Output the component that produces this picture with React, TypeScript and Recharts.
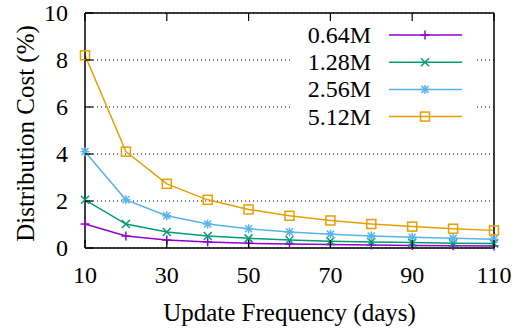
import { LineChart, Line, XAxis, YAxis, CartesianGrid } from "recharts";

const days = [10, 20, 30, 40, 50, 60, 70, 80, 90, 100, 110];
const cost064 = [1.02, 0.51, 0.34, 0.26, 0.2, 0.17, 0.15, 0.13, 0.11, 0.1, 0.09];
const cost128 = [2.05, 1.02, 0.68, 0.51, 0.41, 0.34, 0.29, 0.26, 0.23, 0.2, 0.19];
const cost256 = [4.1, 2.05, 1.37, 1.02, 0.82, 0.68, 0.59, 0.51, 0.46, 0.41, 0.37];
const cost512 = [8.2, 4.1, 2.73, 2.05, 1.64, 1.37, 1.17, 1.02, 0.91, 0.82, 0.75];

const xTicks = [10, 30, 50, 70, 90, 110];
const yTicks = [0, 2, 4, 6, 8, 10];

const SERIF = "Liberation Serif";
const FS = 24;
const TICK = 8;

const data = days.map((d, i) => ({
  d,
  a: cost064[i],
  b: cost128[i],
  c: cost256[i],
  e: cost512[i],
}));

const series = [
  { key: "a", name: "0.64M", color: "#9400d3", marker: "plus" },
  { key: "b", name: "1.28M", color: "#009e73", marker: "cross" },
  { key: "c", name: "2.56M", color: "#56b4e9", marker: "star" },
  { key: "e", name: "5.12M", color: "#e69f00", marker: "square" },
];

// plain svg text in the serif face
const T = ({ children, size = FS, ...rest }: any) => (
  <text {...rest} fontFamily={SERIF} fontSize={size} fill="#000" style={{ fontFamily: `"${SERIF}"`, fontSize: size }}>
    {children}
  </text>
);

const Marker = ({ cx, cy, kind, color }: any) => {
  const s = 4.5;
  const sw = 1.5;
  if (kind === "plus")
    return (
      <g stroke={color} strokeWidth={sw}>
        <line x1={cx - s} x2={cx + s} y1={cy} y2={cy} />
        <line x1={cx} x2={cx} y1={cy - s} y2={cy + s} />
      </g>
    );
  if (kind === "cross")
    return (
      <g stroke={color} strokeWidth={sw}>
        <line x1={cx - 4} x2={cx + 4} y1={cy - 4} y2={cy + 4} />
        <line x1={cx - 4} x2={cx + 4} y1={cy + 4} y2={cy - 4} />
      </g>
    );
  if (kind === "star")
    return (
      <g stroke={color} strokeWidth={sw}>
        <line x1={cx - s} x2={cx + s} y1={cy} y2={cy} />
        <line x1={cx} x2={cx} y1={cy - s} y2={cy + s} />
        <line x1={cx - 3.5} x2={cx + 3.5} y1={cy - 3.5} y2={cy + 3.5} />
        <line x1={cx - 3.5} x2={cx + 3.5} y1={cy + 3.5} y2={cy - 3.5} />
      </g>
    );
  return (
    <rect x={cx - s} y={cy - s} width={2 * s} height={2 * s} fill="none" stroke={color} strokeWidth={sw} />
  );
};

const BottomTick = ({ x, y, payload }: any) => (
  <g>
    <line x1={x} x2={x} y1={y} y2={y - TICK} stroke="#000" strokeWidth={1.2} />
    <T x={x} y={y + 35} textAnchor="middle">
      {payload.value}
    </T>
  </g>
);

const TopTick = ({ x, y }: any) => (
  <line x1={x} x2={x} y1={y} y2={y + TICK} stroke="#000" strokeWidth={1.2} />
);

const LeftTick = ({ x, y, payload }: any) => (
  <g>
    <line x1={x} x2={x + TICK} y1={y} y2={y} stroke="#000" strokeWidth={1.2} />
    <T x={x - 17} y={y + 8} textAnchor="end">
      {payload.value}
    </T>
  </g>
);

const RightTick = ({ x, y }: any) => (
  <line x1={x} x2={x - TICK} y1={y} y2={y} stroke="#000" strokeWidth={1.2} />
);

const KeyBox = () => (
  <g>
    <rect x={290} y={20} width={187} height={110} fill="#fff" />
    {series.map((s, i) => {
      const y = 35 + i * 27.2;
      return (
        <g key={s.key}>
          <T x={371} y={y + 8} textAnchor="end">
            {s.name}
          </T>
          <line x1={389} x2={462} y1={y} y2={y} stroke={s.color} strokeWidth={1.5} />
          <Marker cx={425} cy={y} kind={s.marker} color={s.color} />
        </g>
      );
    })}
  </g>
);

export default function App() {
  return (
    <div style={{ position: "absolute", left: 0, top: 0, background: "#fff", fontFamily: `"${SERIF}"` }}>
      <LineChart
        width={516}
        height={332}
        data={data}
        margin={{ top: 8, right: 12, bottom: 34, left: 25 }}
        style={{ fontFamily: `"${SERIF}"` }}
      >
        <CartesianGrid vertical={false} stroke="#000" strokeDasharray="1 3" strokeWidth={1} />
        <XAxis
          dataKey="d"
          type="number"
          domain={[10, 110]}
          ticks={xTicks}
          interval={0}
          height={50}
          tickSize={0}
          tickMargin={0}
          tickLine={false}
          tick={<BottomTick />}
          axisLine={{ stroke: "#000", strokeWidth: 1.5 }}
          label={(props: any) => {
            const vb = props.viewBox || {};
            const cx = (vb.x ?? 0) + (vb.width ?? 0) / 2;
            return (
              <T x={cx} y={321} textAnchor="middle" size={25}>
                Update Frequency (days)
              </T>
            );
          }}
        />
        <XAxis
          xAxisId="top"
          orientation="top"
          dataKey="d"
          type="number"
          domain={[10, 110]}
          ticks={xTicks}
          interval={0}
          height={5}
          tickSize={0}
          tickMargin={0}
          tickLine={false}
          tick={<TopTick />}
          axisLine={{ stroke: "#000", strokeWidth: 1.5 }}
        />
        <YAxis
          type="number"
          domain={[0, 10]}
          ticks={yTicks}
          interval={0}
          width={60}
          tickSize={0}
          tickMargin={0}
          tickLine={false}
          tick={<LeftTick />}
          axisLine={{ stroke: "#000", strokeWidth: 1.5 }}
          label={(props: any) => {
            const vb = props.viewBox || {};
            const cx = 34;
            const cy = (vb.y ?? 0) + (vb.height ?? 0) / 2 + 3;
            return (
              <T x={cx} y={cy} transform={`rotate(-90 ${cx} ${cy})`} textAnchor="middle" size={25}>
                Distribution Cost (%)
              </T>
            );
          }}
        />
        <YAxis
          yAxisId="right"
          orientation="right"
          type="number"
          domain={[0, 10]}
          ticks={yTicks}
          interval={0}
          width={10}
          tickSize={0}
          tickMargin={0}
          tickLine={false}
          tick={<RightTick />}
          axisLine={{ stroke: "#000", strokeWidth: 1.5 }}
        />
        <KeyBox />
        {series.map((s) => (
          <Line
            key={s.key}
            dataKey={s.key}
            name={s.name}
            stroke={s.color}
            strokeWidth={1.5}
            isAnimationActive={false}
            dot={(p: any) => <Marker key={`${s.key}-${p.index}`} cx={p.cx} cy={p.cy} kind={s.marker} color={s.color} />}
            activeDot={false}
          />
        ))}
      </LineChart>
    </div>
  );
}
